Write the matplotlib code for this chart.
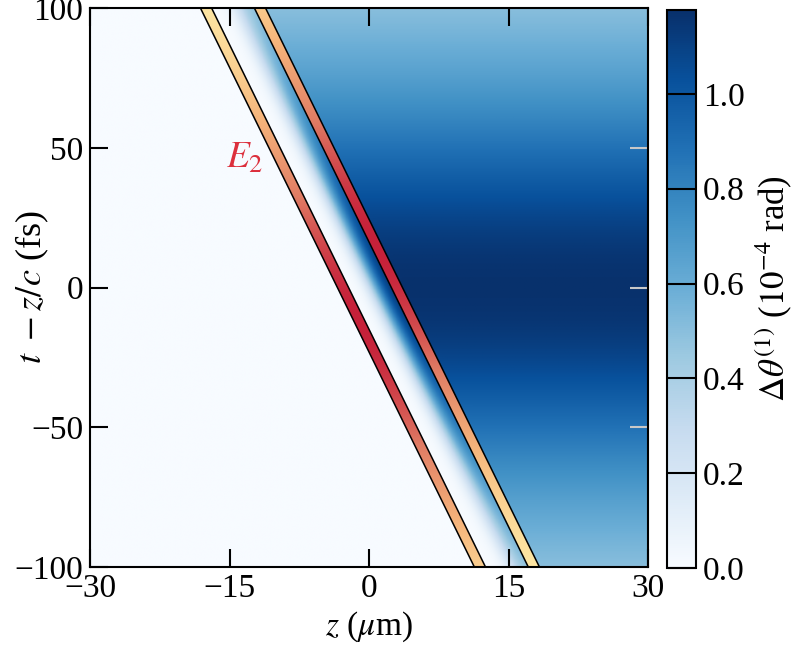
"Δθ(1) map in (z, t - z/c) with the E2 pulse strips"

import math
import numpy as np
import matplotlib
matplotlib.use('Agg')
import matplotlib.pyplot as plt
from matplotlib.colors import LinearSegmentedColormap
from matplotlib.patches import Polygon

plt.rcParams['font.family'] = ['Liberation Serif', 'DejaVu Serif']
plt.rcParams['mathtext.fontset'] = 'stix'
plt.rcParams['font.size'] = 24

# axes and ticks
z_lim = [-30, 30]
tau_lim = [-100, 100]
z_ticks = [-30, -15, 0, 15, 30]
tau_ticks = [-100, -50, 0, 50, 100]
cbar_ticks = [0.0, 0.2, 0.4, 0.6, 0.8, 1.0]
cbar_max = 1.177

# values
theta_peak = 1.17          # Δθ(1) behind the front at τ = 0 (1e-4 rad)
theta_width = 87.0         # fs, width of the τ profile
front_slope = 6.79         # fs per μm, tilt of the E2 front
front_z0 = 0.7             # μm, middle of the rise at τ = 0
front_width = 1.4          # μm, rise width
strip_z0 = [-2.8, 3.0]     # μm, strip centres at τ = 0
strip_tau_peak = [-12.0, 15.0]   # fs, reddest point of each strip
strip_env = 70.0           # fs
strip_half = 0.6           # μm, half width of a strip
label_pos = (-13.4, 46.0)

strip_cmap = LinearSegmentedColormap.from_list(
    'e2', ['#fff2ad', '#f6b67c', '#e07c64', '#c6213a'])

fig = plt.figure(figsize=(7.97, 6.52), dpi=100)
ax = fig.add_axes([90/797, 85/652, 558/797, 559/652])
cax = fig.add_axes([667/797, 84/652, 29/797, 558/652])

# field
z = np.linspace(z_lim[0], z_lim[1], 700)
tau = np.linspace(tau_lim[0], tau_lim[1], 700)
Z, T = np.meshgrid(z, tau)
amp = theta_peak / (1 + (T / theta_width) ** 2)
erf = np.vectorize(math.erf)
rise = 0.5 * (1 + erf((Z - (front_z0 - T / front_slope)) / front_width))
field = amp * rise

im = ax.imshow(field, extent=z_lim + tau_lim, origin='lower', aspect='auto',
               cmap='Blues', vmin=0, vmax=cbar_max, interpolation='bilinear')

# E2 strips
t_ext = np.array([-120.0, 120.0])
for zc, tp in zip(strip_z0, strip_tau_peak):
    zz = zc - t_ext / front_slope
    pts = [(zz[0] - strip_half, t_ext[0]), (zz[0] + strip_half, t_ext[0]),
           (zz[1] + strip_half, t_ext[1]), (zz[1] - strip_half, t_ext[1])]
    clip = Polygon(pts, closed=True, facecolor='none', edgecolor='none')
    ax.add_patch(clip)
    env = np.exp(-((tau - tp) / strip_env) ** 2)
    grad = np.tile(env[:, None], (1, 2))
    g = ax.imshow(grad, extent=z_lim + tau_lim, origin='lower', aspect='auto',
                  cmap=strip_cmap, vmin=0, vmax=1, interpolation='bilinear')
    g.set_clip_path(clip)
    ax.add_patch(Polygon(pts, closed=True, facecolor='none',
                         edgecolor='black', lw=1.1, zorder=3))

ax.text(label_pos[0], label_pos[1], '$E_2$', color='#dc2f3c',
        ha='center', va='center', fontsize=27)

ax.set_xlim(z_lim)
ax.set_ylim(tau_lim)
ax.set_xticks(z_ticks)
ax.set_yticks(tau_ticks)
ax.tick_params(direction='in', length=13, width=1.5, top=True, right=False,
               labelsize=24, pad=5)
for sp in ax.spines.values():
    sp.set_linewidth(1.5)

# light grey ticks on the right edge
ax_r = ax.secondary_yaxis('right')
ax_r.set_yticks(tau_ticks)
ax_r.tick_params(direction='in', length=13, width=1.5, color='#c8c8c8',
                 labelright=False)
ax_r.spines['right'].set_visible(False)

ax.set_xlabel(r'$z$ ($\mu$m)', fontsize=24, labelpad=4)
ax.set_ylabel(r'$t\ -z/c$ (fs)', fontsize=26)
ax.yaxis.set_label_coords(-0.07, 0.5)

cbar = fig.colorbar(im, cax=cax, ticks=cbar_ticks)
cbar.outline.set_linewidth(1.5)
cax.tick_params(direction='in', length=20.5, width=1.5, color='black',
                labelsize=24, pad=5)
cbar.set_label(r'$\Delta\theta^{(1)}$ ($10^{-4}$ rad)', fontsize=25, labelpad=6)

fig.savefig('out.png', dpi=100)
